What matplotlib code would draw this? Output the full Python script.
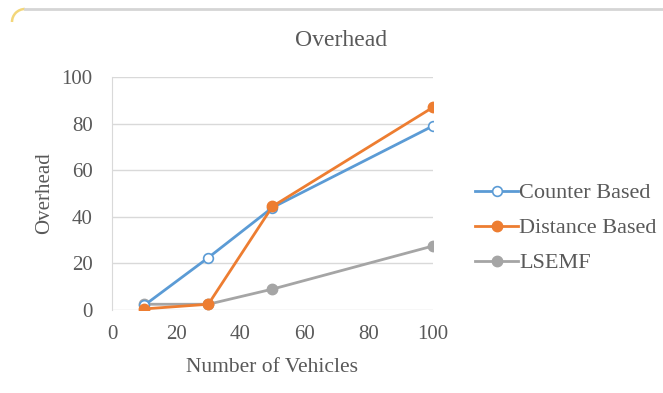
import matplotlib
matplotlib.use("Agg")
import matplotlib.pyplot as plt
from matplotlib.lines import Line2D
from matplotlib.patches import Arc

vehicles = [10, 30, 50, 100]
counter_based = [2, 22.5, 44, 79]
distance_based = [0.5, 2.5, 44.5, 87]
lsemf = [2.5, 2.5, 9, 27.5]

x_ticks = [0, 20, 40, 60, 80, 100]
y_ticks = [0, 20, 40, 60, 80, 100]

plt.rcParams['font.family'] = ['Liberation Serif', 'DejaVu Serif']
text_color = '#595959'

fig = plt.figure(figsize=(6.63, 3.93), dpi=100)
fig.patch.set_facecolor('white')
ax = fig.add_axes([0.169, 0.211, 0.484, 0.593])

ax.plot(vehicles, counter_based, color='#5B9BD5', lw=2, marker='o', ms=7,
        mfc='white', mec='#5B9BD5', mew=1.2, label='Counter Based', zorder=3)
ax.plot(vehicles, distance_based, color='#ED7D31', lw=2, marker='o', ms=7.5,
        label='Distance Based', zorder=4)
ax.plot(vehicles, lsemf, color='#A5A5A5', lw=2, marker='o', ms=7.5,
        label='LSEMF', zorder=2)

ax.set_xlim(0, 100)
ax.set_ylim(0, 100)
ax.set_xticks(x_ticks)
ax.set_yticks(y_ticks)
ax.yaxis.grid(True, color='#D9D9D9', lw=1)
ax.set_axisbelow(True)
for s in ['top', 'right', 'bottom']:
    ax.spines[s].set_visible(False)
ax.spines['left'].set_color('#D9D9D9')
ax.tick_params(length=0, labelsize=15, labelcolor=text_color)
ax.tick_params(axis='y', pad=14)
ax.tick_params(axis='x', pad=11)

fig.text(341 / 663, 1 - 41 / 393, 'Overhead', fontsize=17, color=text_color,
         ha='center', va='center')
ax.set_xlabel('Number of Vehicles', fontsize=15.5, color=text_color, labelpad=10)
ax.set_ylabel('Overhead', fontsize=15, color=text_color, labelpad=5)

leg = fig.legend(loc='center left', bbox_to_anchor=(475 / 663, 1 - 228 / 393), frameon=False,
                 fontsize=16, handlelength=1.95, handletextpad=0.05, labelspacing=0.65,
                 borderpad=0, borderaxespad=0, labelcolor=text_color)

fig.add_artist(Line2D([0.038, 1.0], [1 - 9 / 393, 1 - 9 / 393], transform=fig.transFigure,
                      color='#D5D5D5', lw=2))
fig.add_artist(Arc((25 / 663, 1 - 22 / 393), 26 / 663, 26 / 393, theta1=90, theta2=180,
                   transform=fig.transFigure, color='#F3D67A', lw=1.8))

fig.savefig('out.png', dpi=100, facecolor='white')
